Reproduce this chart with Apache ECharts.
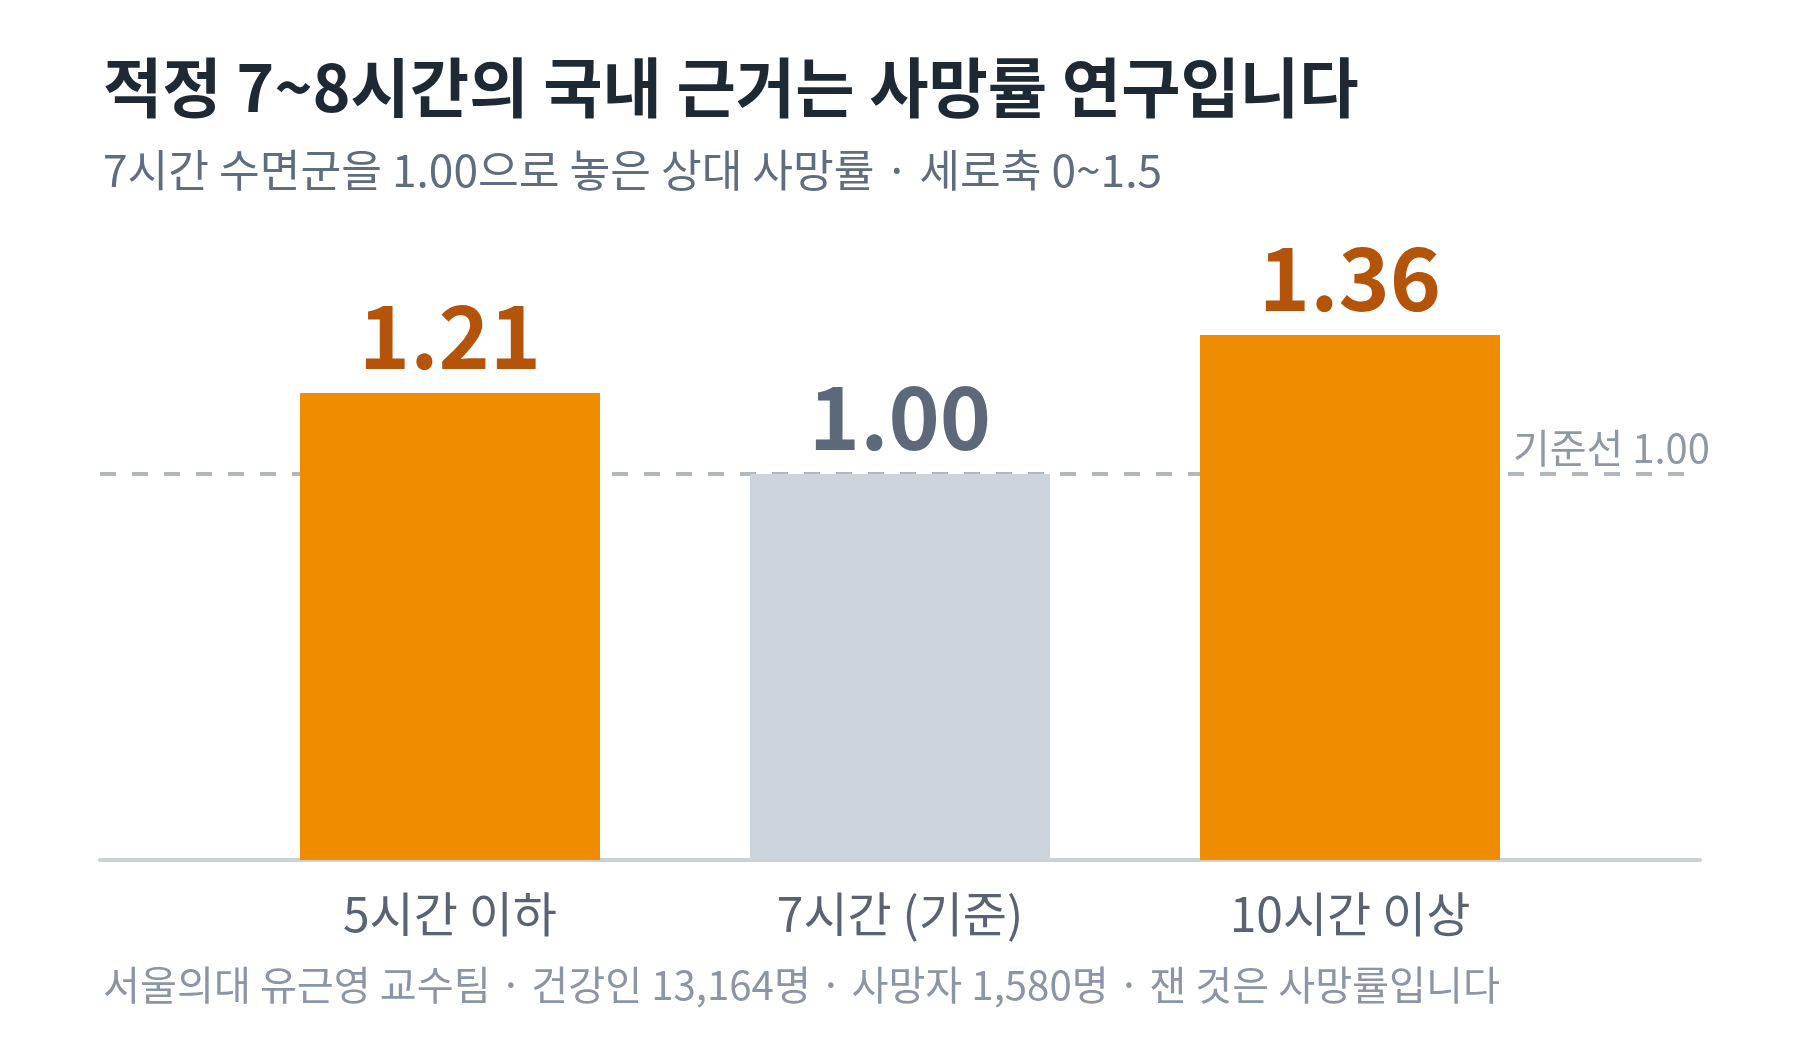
<!DOCTYPE html>
<html><head><meta charset="utf-8">
<script src="https://cdn.jsdelivr.net/npm/echarts@6/dist/echarts.min.js"></script>
<style>html,body{margin:0;padding:0;background:#fff}#c{width:1800px;height:1040px}</style>
</head><body><div id="c"></div>
<script>
const categories = ['5시간 이하', '7시간 (기준)', '10시간 이상'];
const values = [1.21, 1.00, 1.36];
const barColors = ['#ef8c00', '#cdd3db', '#ef8c00'];
const labelColors = ['#b4530a', '#5d6878', '#b4530a'];
const baseline = 1.00;
const baselineLabel = '기준선 1.00';
const titleText = '적정 7~8시간의 국내 근거는 사망률 연구입니다';
const subtitleText = '7시간 수면군을 1.00으로 놓은 상대 사망률 · 세로축 0~1.5';
const footerText = '서울의대 유근영 교수팀 · 건강인 13,164명 · 사망자 1,580명 · 잰 것은 사망률입니다';

const FONT = '"Noto Sans CJK KR", "Noto Sans", sans-serif';
const chart = echarts.init(document.getElementById('c'), null, {renderer: 'canvas'});
chart.setOption({
  animation: false,
  backgroundColor: '#ffffff',
  title: [
    {text: titleText, left: 98, top: 50,
     textStyle: {fontFamily: FONT, fontSize: 64.5, fontWeight: 'bold', color: '#1f2933'}},
    {text: subtitleText, left: 98, top: 143,
     textStyle: {fontFamily: FONT, fontSize: 44.3, fontWeight: 'normal', color: '#606d7e'}},
    {text: footerText, left: 98, top: 960,
     textStyle: {fontFamily: FONT, fontSize: 40.2, fontWeight: 'normal', color: '#8b95a5'}}
  ],
  grid: [
    {left: 225, right: 225, top: 281, bottom: 180},
    {left: 100, right: 100, top: 281, bottom: 180}
  ],
  xAxis: [
    {type: 'category', data: categories, gridIndex: 0,
     axisLine: {show: false}, axisTick: {show: false},
     axisLabel: {margin: 30, fontFamily: FONT, fontSize: 48, color: '#596373'}},
    {type: 'value', gridIndex: 1, min: 0, max: 1,
     axisLine: {show: true, onZero: false, lineStyle: {color: '#c9d0d7', width: 4}},
     axisTick: {show: false}, axisLabel: {show: false}, splitLine: {show: false}}
  ],
  yAxis: [
    {type: 'value', gridIndex: 0, min: 0, max: 1.5, show: false, splitLine: {show: false}},
    {type: 'value', gridIndex: 1, min: 0, max: 1.5, show: false, splitLine: {show: false}}
  ],
  series: [
    {type: 'line', xAxisIndex: 1, yAxisIndex: 1, data: [], z: 1,
     markLine: {
       silent: true, symbol: 'none', z: 1,
       lineStyle: {type: [16, 16], color: '#b0b7bf', width: 4},
       label: {show: true, position: 'insideEndTop', formatter: baselineLabel,
               fontFamily: FONT, fontSize: 40, color: '#8f99a6', distance: [0, 6], offset: [10, 0]},
       data: [{yAxis: baseline}]
     }},
    {type: 'bar', xAxisIndex: 0, yAxisIndex: 0, barWidth: '66.67%', z: 3,
     data: values.map((v, i) => ({
       value: v,
       itemStyle: {color: barColors[i]},
       label: {color: labelColors[i]}
     })),
     label: {show: true, position: 'top', distance: 14,
             formatter: p => p.value.toFixed(2),
             fontFamily: FONT, fontSize: 87, fontWeight: 'bold'}}
  ]
});
</script></body></html>
